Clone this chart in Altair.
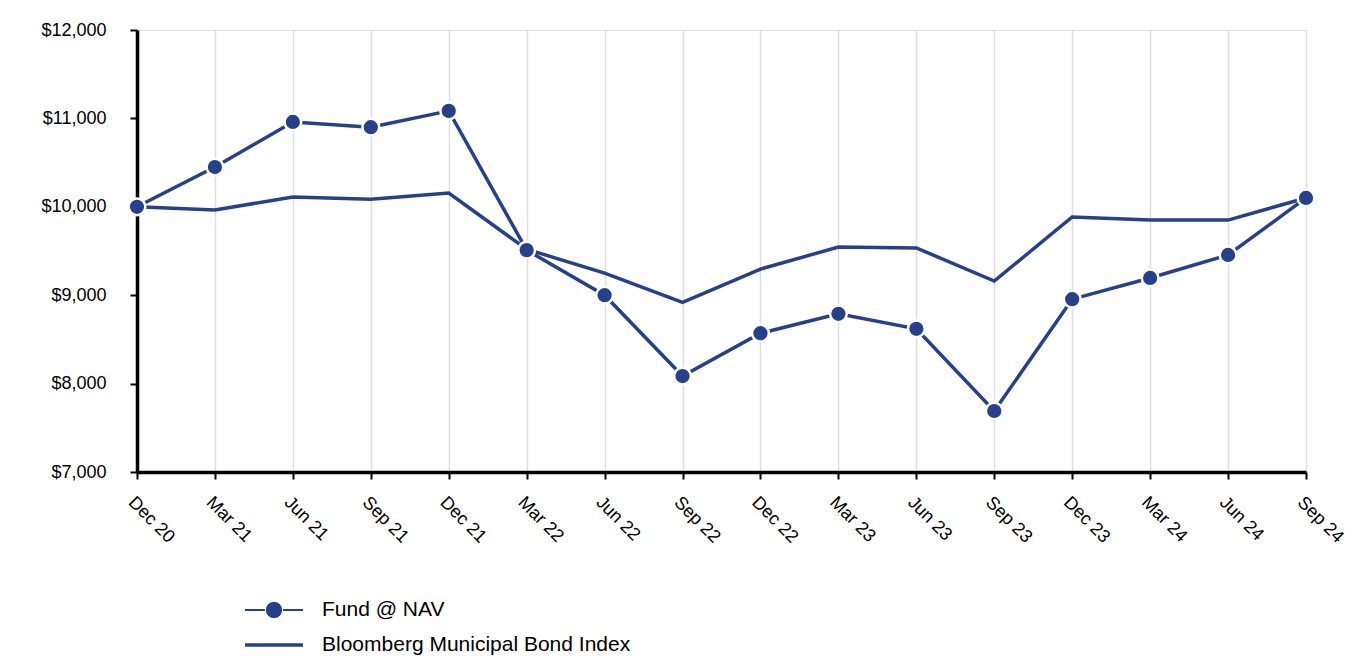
import altair as alt
import pandas as pd

periods = ["Dec 20", "Mar 21", "Jun 21", "Sep 21", "Dec 21", "Mar 22", "Jun 22", "Sep 22",
           "Dec 22", "Mar 23", "Jun 23", "Sep 23", "Dec 23", "Mar 24", "Jun 24", "Sep 24"]
fund_nav = [10000, 10450, 10960, 10900, 11085, 9510, 9000, 8085,
            8570, 8790, 8620, 7690, 8955, 9195, 9455, 10100]
bond_index = [10000, 9965, 10110, 10085, 10155, 9520, 9250, 8920,
              9295, 9545, 9535, 9160, 9885, 9850, 9850, 10100]
series_names = ["Fund @ NAV", "Bloomberg Municipal Bond Index"]

COLOR = "#26408B"
FONT = "Arial, Liberation Sans, sans-serif"

rows = []
for p, f, b in zip(periods, fund_nav, bond_index):
    rows.append({"period": p, "series": series_names[0], "value": f})
    rows.append({"period": p, "series": series_names[1], "value": b})
df = pd.DataFrame(rows)

W, H = 1169, 442

x_enc = alt.X("period:N", sort=periods, title=None,
              scale=alt.Scale(type="point", padding=0),
              axis=alt.Axis(labelAngle=45, labelAlign="left", labelBaseline="top",
                            labelFontSize=18, labelFont=FONT, labelColor="#000000",
                            labelPadding=14, tickSize=7, tickColor="#000000", tickWidth=2,
                            domainColor="#000000", domainWidth=3.5,
                            grid=True, gridColor="#dddddd", gridWidth=1.5))
y_enc = alt.Y("value:Q", title=None,
              scale=alt.Scale(domain=[7000, 12000], nice=False, zero=False),
              axis=alt.Axis(values=[7000, 8000, 9000, 10000, 11000, 12000], format="$,.0f",
                            labelFontSize=18, labelFont=FONT, labelColor="#000000",
                            labelPadding=24, tickSize=7, tickColor="#000000", tickWidth=2,
                            domainColor="#000000", domainWidth=3.5, grid=False))

lines = alt.Chart(df).mark_line(color=COLOR, strokeWidth=3.5).encode(
    x=x_enc, y=y_enc, detail="series:N")

points = alt.Chart(df[df.series == series_names[0]]).mark_point(
    filled=True, shape="circle", size=280, color=COLOR, stroke="white",
    strokeWidth=2.5, opacity=1).encode(x=x_enc, y=y_enc)

# Legend (manually drawn)
leg_df = pd.DataFrame({"label": series_names, "row": [0, 1]})
leg_y0 = 580
leg_gap = 35
leg_fund_line = alt.Chart(leg_df[leg_df.row == 0]).mark_rule(color=COLOR, strokeWidth=2).encode(
    x=alt.value(108), x2=alt.value(166), y=alt.value(leg_y0))
leg_index_line = alt.Chart(leg_df[leg_df.row == 1]).mark_rule(color=COLOR, strokeWidth=3.5).encode(
    x=alt.value(108), x2=alt.value(166), y=alt.value(leg_y0 + leg_gap))
leg_point = alt.Chart(leg_df[leg_df.row == 0]).mark_point(
    filled=True, shape="circle", size=300, color=COLOR, stroke="white", strokeWidth=1,
    opacity=1).encode(x=alt.value(137), y=alt.value(leg_y0))
leg_text0 = alt.Chart(leg_df[leg_df.row == 0]).mark_text(
    align="left", baseline="middle", fontSize=21, font=FONT, color="#000000").encode(
    x=alt.value(185), y=alt.value(leg_y0), text="label:N")
leg_text1 = alt.Chart(leg_df[leg_df.row == 1]).mark_text(
    align="left", baseline="middle", fontSize=21, font=FONT, color="#000000").encode(
    x=alt.value(185), y=alt.value(leg_y0 + leg_gap), text="label:N")

chart = alt.layer(lines, points, leg_fund_line, leg_index_line, leg_point, leg_text0, leg_text1).properties(
    width=W, height=H,
    autosize=alt.AutoSizeParams(type="none"),
    padding={"left": 129, "top": 22, "right": 50, "bottom": 186},
).configure_view(stroke=None).configure(background="white")

chart.save("out.html", embed_options={"renderer": "svg", "actions": False})
